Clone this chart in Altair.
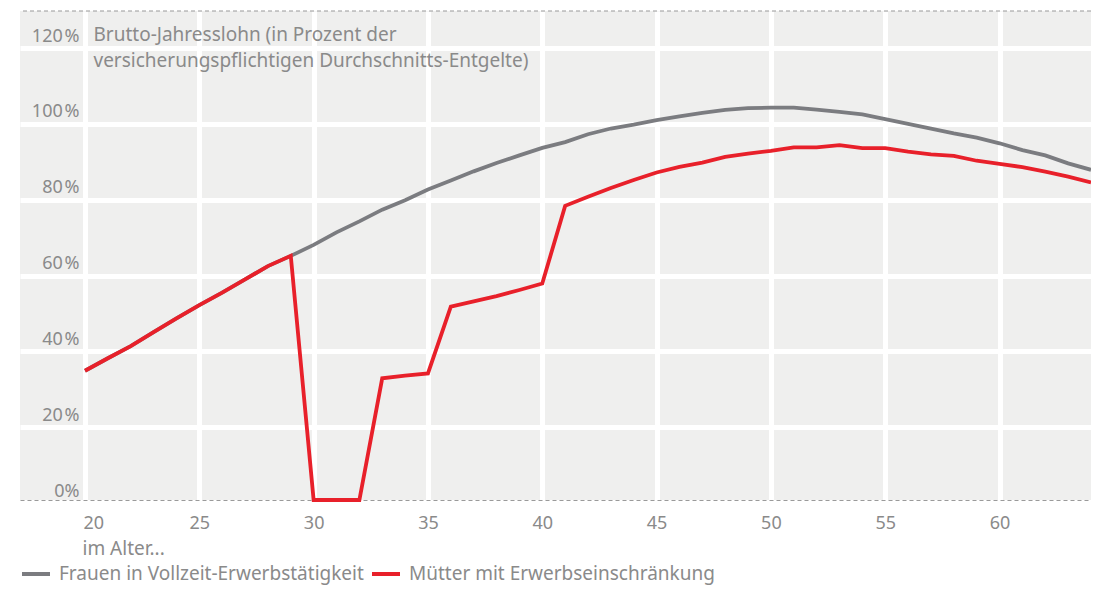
import altair as alt
import pandas as pd

# ---------------- data ----------------
ages = list(range(20, 65))

vollzeit = [34.1, 37.4, 40.6, 44.3, 47.9, 51.4, 54.7, 58.2, 61.7, 64.4,
            67.3, 70.6, 73.5, 76.6, 79.1, 81.9, 84.3, 86.7, 88.9, 90.9,
            92.9, 94.4, 96.5, 98.0, 99.0, 100.2, 101.2, 102.1, 102.9, 103.4,
            103.5, 103.5, 103.0, 102.4, 101.7, 100.5, 99.2, 98.0, 96.7, 95.6,
            94.1, 92.3, 90.9, 88.8, 87.1]

muetter = [34.1, 37.4, 40.6, 44.3, 47.9, 51.4, 54.7, 58.2, 61.7, 64.4,
           0.0, 0.0, 0.0, 32.1, 32.8, 33.4, 51.0, 52.4, 53.8, 55.4,
           57.1, 77.6, 80.0, 82.3, 84.4, 86.4, 87.9, 89.0, 90.5, 91.4,
           92.1, 93.0, 93.0, 93.6, 92.8, 92.8, 91.9, 91.2, 90.8, 89.5,
           88.7, 87.8, 86.6, 85.3, 83.8]

series_names = ["Frauen in Vollzeit-Erwerbstätigkeit", "Mütter mit Erwerbseinschränkung"]
series_colors = ["#7b7c80", "#e8202a"]

x_ticks = [20, 25, 30, 35, 40, 45, 50, 55, 60]
y_ticks = [0, 20, 40, 60, 80, 100, 120]
x_domain = [17.157, 64]
y_domain = [0, 129]

y_title = ["Brutto-Jahresslohn (in Prozent der",
           "versicherungspflichtigen Durchschnitts-Entgelte)"]
x_title = "im Alter..."

# ---------------- table ----------------
df = pd.DataFrame({
    "Alter": ages + ages,
    "Wert": vollzeit + muetter,
    "Reihe": [series_names[0]] * len(ages) + [series_names[1]] * len(ages),
})
top_df = pd.DataFrame({"Wert": [y_domain[1]]})

FONT = "Noto Sans"
TXT = "#8a8a8a"
FS_LAB = 18
FS_TXT = 19

x_enc = alt.X(
    "Alter:Q",
    scale=alt.Scale(domain=x_domain, nice=False, zero=False),
    axis=alt.Axis(
        values=x_ticks, grid=True, gridColor="white", gridWidth=5,
        ticks=False, domain=True, domainColor="#9a9a9a", domainWidth=1.2,
        domainDash=[4, 3],
        labelFont=FONT, labelFontSize=FS_LAB, labelColor=TXT,
        labelBaseline="alphabetic", labelPadding=28,
        labelAlign={"condition": {"test": "datum.value == 20", "value": "left"}, "value": "center"},
        labelOffset={"condition": {"test": "datum.value == 20", "value": -2}, "value": 0},
        title=x_title, titleFont=FONT, titleFontSize=FS_TXT, titleFontWeight="normal",
        titleColor=TXT, titleAlign="left", titleBaseline="alphabetic",
        titleX=62, titleY=54, titleAngle=0,
    ),
)

y_enc = alt.Y(
    "Wert:Q",
    scale=alt.Scale(domain=y_domain, nice=False),
    axis=alt.Axis(
        values=y_ticks, grid=True, gridColor="white", gridWidth=5,
        ticks=False, domain=False, tickOffset=3,
        labelExpr="datum.value == 0 ? '0%' : datum.value + '\u200a%'",
        labelFont=FONT, labelFontSize=FS_LAB, labelColor=TXT,
        labelAlign="right", labelBaseline="alphabetic",
        labelPadding=-59, labelOffset=-7,
        title=y_title, titleFont=FONT, titleFontSize=FS_TXT, titleFontWeight="normal",
        titleColor=TXT, titleAngle=0, titleAlign="left", titleBaseline="alphabetic",
        titleX=73, titleY=29, titleLineHeight=26,
    ),
)

color_enc = alt.Color(
    "Reihe:N",
    scale=alt.Scale(domain=series_names, range=series_colors),
    legend=alt.Legend(
        title=None, orient="none", legendX=0, legendY=547,
        direction="horizontal", symbolType="stroke", symbolSize=784,
        symbolStrokeWidth=4, labelFont=FONT, labelFontSize=FS_TXT, labelLimit=0,
        labelColor=TXT, labelOffset=7, columnPadding=0, padding=0,
    ),
)

base = alt.Chart(df).mark_line(strokeWidth=3.8).encode(x=x_enc, y=y_enc, color=color_enc)
gray_line = base.transform_filter(alt.datum.Reihe == series_names[0])
red_line = base.transform_filter(alt.datum.Reihe == series_names[1])

top_rule = alt.Chart(top_df).mark_rule(
    strokeDash=[4, 3], color="#9a9a9a", strokeWidth=1.2
).encode(y=y_enc)

chart = alt.layer(top_rule, gray_line, red_line).properties(
    width=1071, height=489,
    padding={"left": 12, "top": 3, "right": 0, "bottom": 86},
    autosize=alt.AutoSizeParams(type="none"),
    background="white",
).configure(font=FONT).configure_view(fill="#efefee", strokeWidth=0)

chart.save("out.html", embed_options={"renderer": "svg", "actions": False})
